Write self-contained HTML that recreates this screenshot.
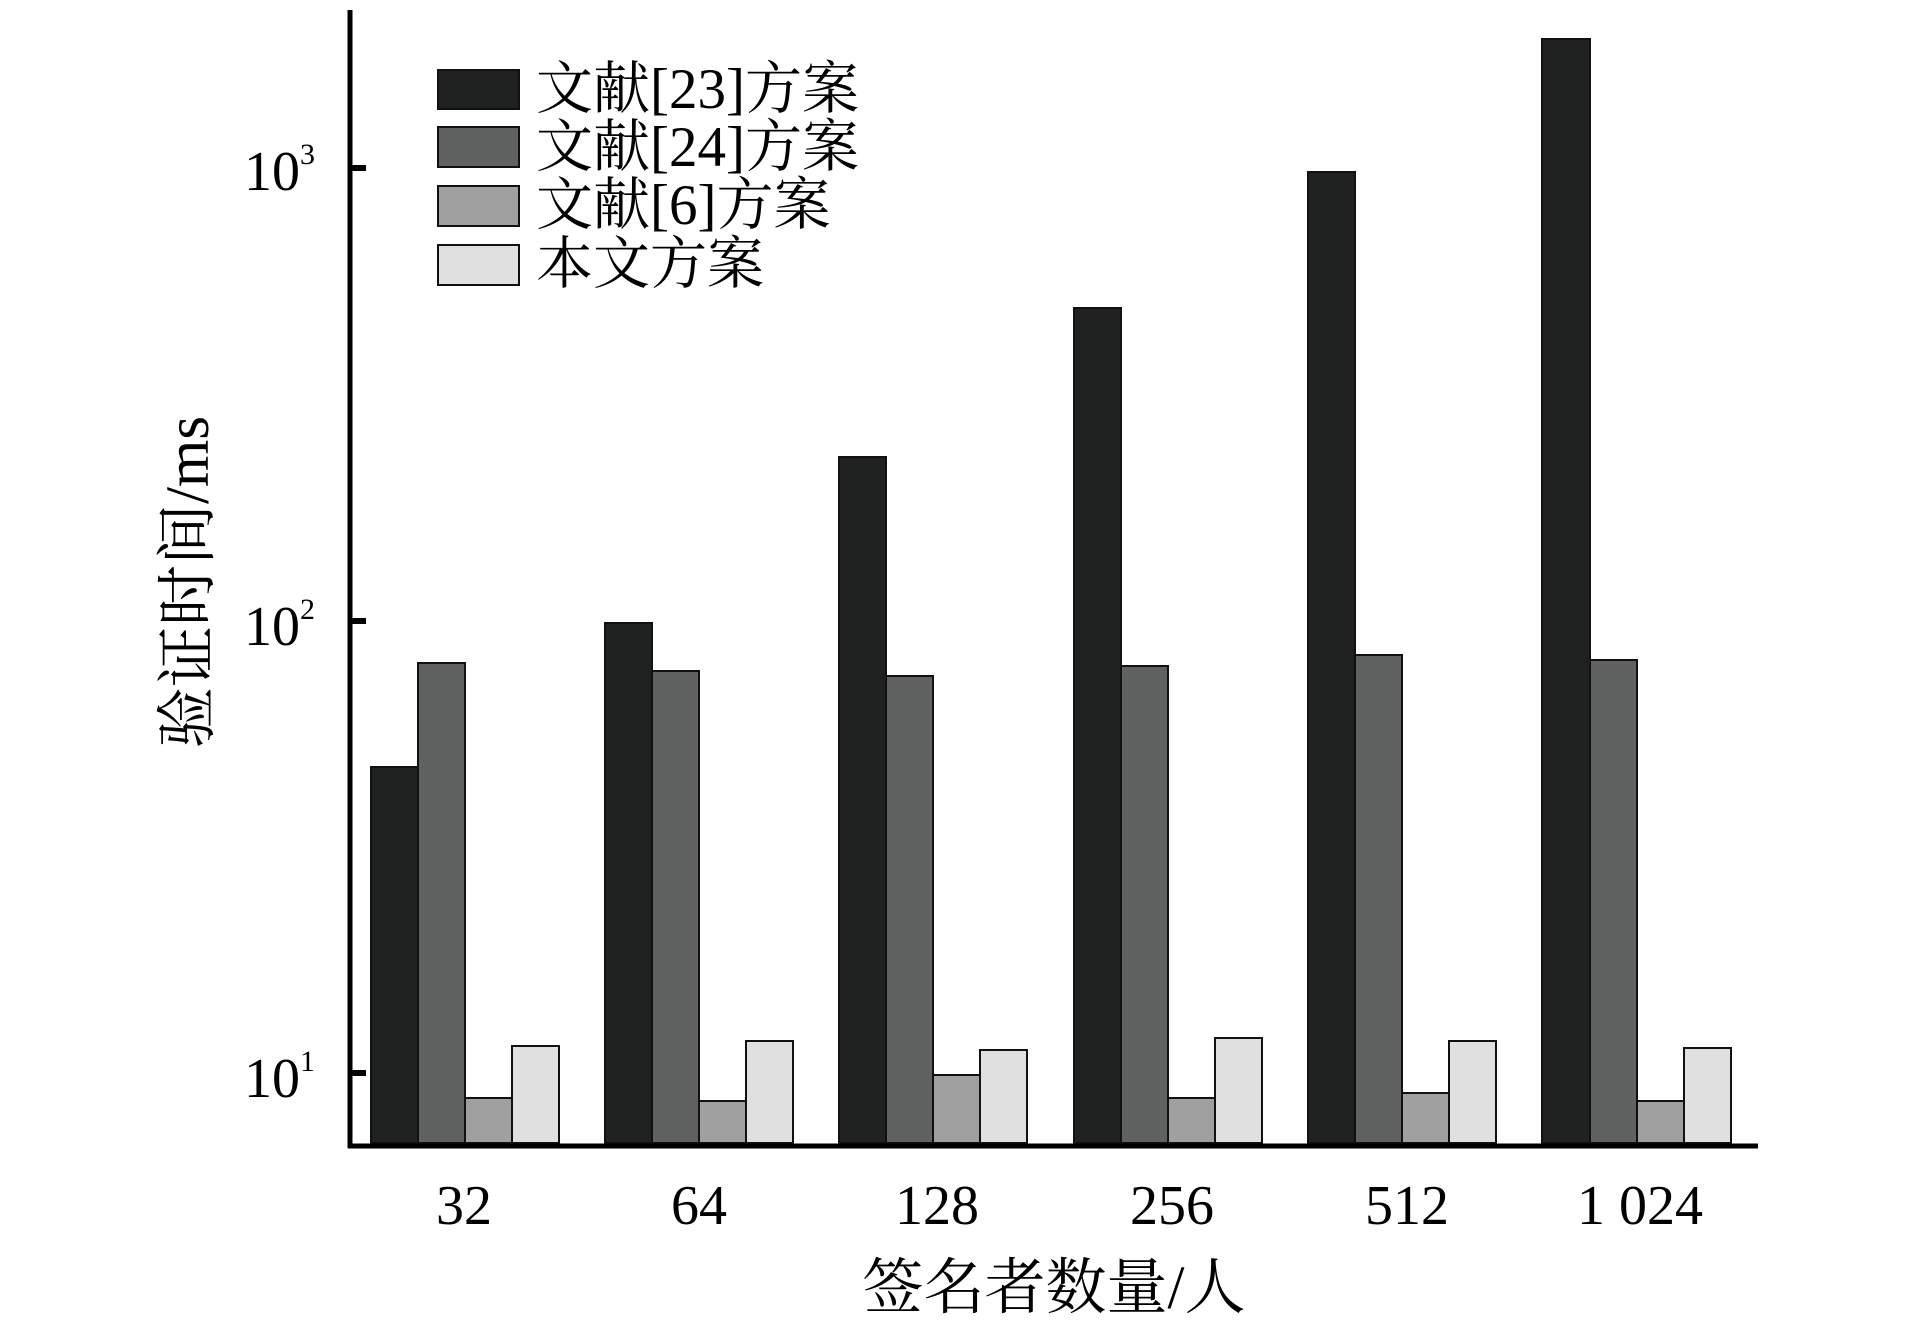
<!DOCTYPE html>
<html><head><meta charset="utf-8"><style>
html,body{margin:0;padding:0;background:#fff;}
svg{display:block;}
text{font-family:"Liberation Serif","Noto Serif CJK SC",serif;fill:#000;}
</style></head><body>
<svg width="1913" height="1323" viewBox="0 0 1913 1323" xmlns="http://www.w3.org/2000/svg">
<g stroke="#111" stroke-width="2">
<rect x="371" y="767" width="47" height="376" fill="#202121"/>
<rect x="418" y="663" width="47" height="480" fill="#606161"/>
<rect x="465" y="1098" width="47" height="45" fill="#a0a0a0"/>
<rect x="512" y="1046" width="47" height="97" fill="#e0e0e0"/>
<rect x="605" y="623" width="47" height="520" fill="#202121"/>
<rect x="652" y="671" width="47" height="472" fill="#606161"/>
<rect x="699" y="1101" width="47" height="42" fill="#a0a0a0"/>
<rect x="746" y="1041" width="47" height="102" fill="#e0e0e0"/>
<rect x="839" y="457" width="47" height="686" fill="#202121"/>
<rect x="886" y="676" width="47" height="467" fill="#606161"/>
<rect x="933" y="1075" width="47" height="68" fill="#a0a0a0"/>
<rect x="980" y="1050" width="47" height="93" fill="#e0e0e0"/>
<rect x="1074" y="308" width="47" height="835" fill="#202121"/>
<rect x="1121" y="666" width="47" height="477" fill="#606161"/>
<rect x="1168" y="1098" width="47" height="45" fill="#a0a0a0"/>
<rect x="1215" y="1038" width="47" height="105" fill="#e0e0e0"/>
<rect x="1308" y="172" width="47" height="971" fill="#202121"/>
<rect x="1355" y="655" width="47" height="488" fill="#606161"/>
<rect x="1402" y="1093" width="47" height="50" fill="#a0a0a0"/>
<rect x="1449" y="1041" width="47" height="102" fill="#e0e0e0"/>
<rect x="1542" y="39" width="48" height="1104" fill="#202121"/>
<rect x="1590" y="660" width="47" height="483" fill="#606161"/>
<rect x="1637" y="1101" width="47" height="42" fill="#a0a0a0"/>
<rect x="1684" y="1048" width="47" height="95" fill="#e0e0e0"/>
<rect x="438" y="70" width="81" height="39" fill="#202121"/>
<rect x="438" y="127" width="81" height="40" fill="#606161"/>
<rect x="438" y="186" width="81" height="40" fill="#a0a0a0"/>
<rect x="438" y="245" width="81" height="40" fill="#e0e0e0"/>
</g>
<line x1="350" y1="10" x2="350" y2="1148" stroke="#000" stroke-width="5"/>
<line x1="348" y1="1146" x2="1758" y2="1146" stroke="#000" stroke-width="5"/>
<line x1="350" y1="168" x2="366" y2="168" stroke="#000" stroke-width="6"/>
<line x1="350" y1="621" x2="366" y2="621" stroke="#000" stroke-width="6"/>
<line x1="350" y1="1073" x2="366" y2="1073" stroke="#000" stroke-width="6"/>
<g font-size="56">
<text x="244" y="190">10<tspan font-size="30" dy="-26">3</tspan></text>
<text x="244" y="645">10<tspan font-size="30" dy="-26">2</tspan></text>
<text x="244" y="1097">10<tspan font-size="30" dy="-26">1</tspan></text>
</g>
<g font-size="56" text-anchor="middle">
<text x="464" y="1224">32</text>
<text x="699" y="1224">64</text>
<text x="937" y="1224">128</text>
<text x="1172" y="1224">256</text>
<text x="1407" y="1224">512</text>
<text x="1640" y="1224">1 024</text>
</g>
<g font-size="57">
<text x="536" y="108">文献[23]方案</text>
<text x="536" y="166">文献[24]方案</text>
<text x="536" y="224">文献[6]方案</text>
<text x="536" y="283">本文方案</text>
</g>
<text x="1054" y="1308" font-size="61" text-anchor="middle">签名者数量/人</text>
<text transform="translate(208,582) rotate(-90)" font-size="61" text-anchor="middle">验证时间/ms</text>
</svg>
</body></html>
